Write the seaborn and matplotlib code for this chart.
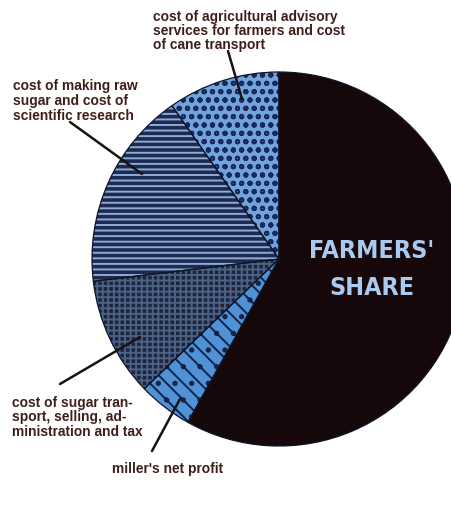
import numpy as np
import matplotlib.pyplot as plt
import seaborn as sns
from matplotlib import font_manager

# Anteile am Zuckerpreis, im Uhrzeigersinn ab 12 Uhr (Prozent)
labels = [
    "FARMERS'\nSHARE",
    "miller's net profit",
    "cost of sugar tran-\nsport, selling, ad-\nministration and tax",
    "cost of making raw\nsugar and cost of\nscientific research",
    "cost of agricultural advisory\nservices for farmers and cost\nof cane transport",
]
shares = [58.1, 4.7, 10.3, 17.2, 9.7]

# Stil der Segmente
face_colors = ["#16070a", "#4f93d6", "#1c253d", "#1d2b52", "#72a3da"]
hatch_colors = ["#16070a", "#13234a", "#4c6284", "#8eabd4", "#172a5e"]
hatches = ["", "\\\\.", "+++", "---", "oo"]

sns.set_theme(style="white")
plt.rcParams["hatch.linewidth"] = 1.4


def narrow_font():
    # schmale fette Schrift suchen (z.B. DejaVu Sans Condensed Bold)
    best = None
    for f in font_manager.fontManager.ttflist:
        name = f.fname.lower()
        if not any(s in name for s in ("condensed", "narrow")):
            continue
        if "italic" in name or "oblique" in name:
            continue
        w = f.weight if isinstance(f.weight, int) else (700 if "bold" in str(f.weight) else 400)
        score = abs(w - 700)
        if best is None or score < best[0]:
            best = (score, f.fname)
    if best is not None:
        return font_manager.FontProperties(fname=best[1])
    return font_manager.FontProperties(family="DejaVu Sans", weight="bold")


big_fp = narrow_font()

W, H = 452, 510
fig = plt.figure(figsize=(W / 100, H / 100), dpi=100)
fig.patch.set_facecolor("white")

# Kreis: Mitte (279, 260) px, Radius 187 px
cx, cy, R = 279, 260, 187
ax = fig.add_axes([(cx - R) / W, (H - cy - R) / H, 2 * R / W, 2 * R / H])
wedges, _ = ax.pie(shares, startangle=90, counterclock=False, colors=face_colors,
                   wedgeprops=dict(linewidth=0))
for w, hc, h in zip(wedges, hatch_colors, hatches):
    w.set_hatch(h)
    w.set_edgecolor(hc)
    w.set_linewidth(0)
# Umrisse
ax.pie(shares, startangle=90, counterclock=False,
       wedgeprops=dict(fill=False, edgecolor="#0e1428", linewidth=0.9))
ax.set_xlim(-1, 1)
ax.set_ylim(-1, 1)
ax.set_aspect("equal")


def px(x, y):
    return x / W, 1 - y / H


text_color = "#3e1e1a"
label_fam = ["Liberation Sans", "DejaVu Sans"]

# Beschriftungen: (links x, erste Grundlinie y, Zeilenabstand)
label_pos = {
    2: (12, 407, 14.5),
    3: (13, 90, 15),
    4: (153, 20.5, 14.3),
}
for i, (x0, y0, dy) in label_pos.items():
    for k, line in enumerate(labels[i].split("\n")):
        fig.text(*px(x0, y0 + k * dy), line, ha="left", va="baseline",
                 fontsize=9.9, fontweight="bold", color=text_color, family=label_fam)

fig.text(*px(168, 473), labels[1], ha="center", va="baseline", fontsize=9.9,
         fontweight="bold", color=text_color, family=label_fam)

# FARMERS' SHARE
for k, line in enumerate(labels[0].split("\n")):
    fig.text(*px(372, 258 + k * 37), line, ha="center", va="baseline",
             fontproperties=big_fp, fontsize=18, color="#a9c9ef")

# Hinweislinien (Start am Text, Ende im Segment), Pixel
leaders = [
    ((152, 452), (180, 400)),
    ((60, 385), (140, 338)),
    ((70, 123), (142, 175)),
    ((228, 52), (242, 100)),
]
for (x1, y1), (x2, y2) in leaders:
    ax.annotate("", xy=px(x2, y2), xytext=px(x1, y1),
                xycoords="figure fraction", textcoords="figure fraction",
                arrowprops=dict(arrowstyle="-", color="#1a1212", lw=1.8,
                                shrinkA=0, shrinkB=0))

fig.savefig("out.png", dpi=100, facecolor="white")
